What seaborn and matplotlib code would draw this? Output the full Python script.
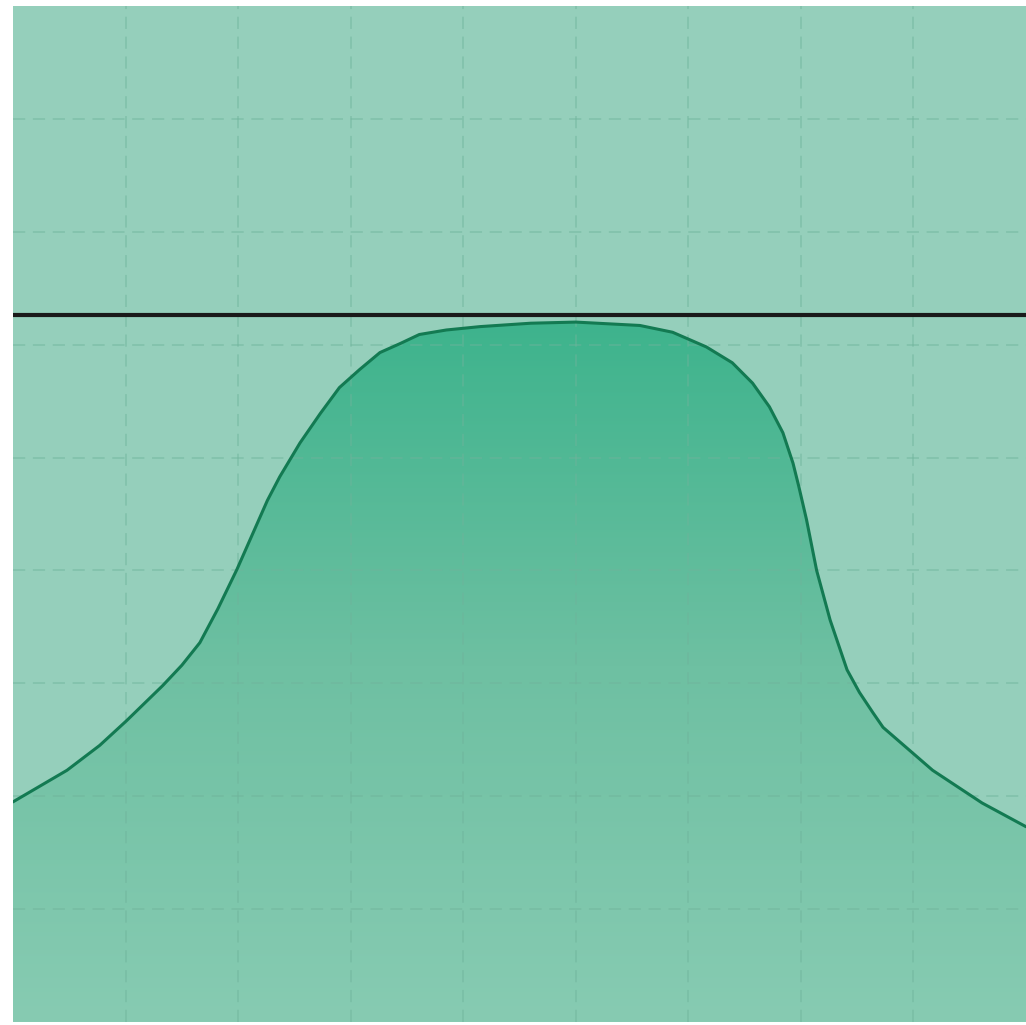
# Plateau curve with gradient fill under a reference line

import numpy as np
import pandas as pd
import seaborn as sns
import matplotlib.pyplot as plt
from matplotlib.colors import LinearSegmentedColormap

# values
curve_x = [0.0, 0.48, 0.77, 1.01, 1.33, 1.50, 1.66, 1.82, 1.99, 2.26, 2.37, 2.55,
           2.73, 2.90, 3.08, 3.26, 3.44, 3.61, 3.85, 4.15, 4.60, 5.00, 5.57,
           5.86, 6.16, 6.39, 6.57, 6.72, 6.84, 6.93, 6.98, 7.05, 7.14, 7.26,
           7.41, 7.52, 7.64, 7.73, 8.17, 8.61, 9.0]
curve_y = [1.95, 2.23, 2.45, 2.67, 2.98, 3.16, 3.36, 3.66, 4.01, 4.62, 4.83, 5.13,
           5.39, 5.62, 5.78, 5.93, 6.01, 6.09, 6.13, 6.16, 6.19, 6.20, 6.17,
           6.11, 5.98, 5.84, 5.66, 5.45, 5.22, 4.95, 4.75, 4.45, 4.00, 3.56,
           3.12, 2.92, 2.74, 2.61, 2.23, 1.94, 1.73]
ref_level = 6.26
grid_ticks = [1, 2, 3, 4, 5, 6, 7, 8]

df = pd.DataFrame({'x': curve_x, 'y': curve_y})

sns.set_theme(style='white')
fig = plt.figure(figsize=(10.26, 10.25), dpi=100)
ax = fig.add_axes([13 / 1026, 3 / 1025, 1013 / 1026, 1016 / 1025])
ax.set_facecolor('#95cfbb')

# gradient fill under the curve
fill = ax.fill_between(df['x'], df['y'], 0, color='none', linewidth=0)
cmap = LinearSegmentedColormap.from_list('g', ['#87cbb2', '#6ec0a2', '#3cb38c'])
grad = np.linspace(0, 1, 256).reshape(-1, 1)
img = ax.imshow(grad, cmap=cmap, origin='lower', aspect='auto',
                extent=[0, 9, 0, 6.3], zorder=1)
img.set_clip_path(fill.get_paths()[0], transform=ax.transData)

sns.lineplot(data=df, x='x', y='y', color='#137a52', linewidth=2.2, ax=ax, zorder=3)
ax.axhline(ref_level, color='#1a1a1a', linewidth=3.0, zorder=4)

ax.set_xlim(0, 9)
ax.set_ylim(0, 9)
ax.set_xticks(grid_ticks)
ax.set_yticks(grid_ticks)
ax.grid(True, color='#6fb39b', alpha=0.55, linestyle=(0, (8, 5)), linewidth=1.1)
ax.set_axisbelow(False)
for gl in ax.get_xgridlines() + ax.get_ygridlines():
    gl.set_zorder(2)
ax.tick_params(length=0, labelbottom=False, labelleft=False)
ax.set_xlabel('')
ax.set_ylabel('')
sns.despine(ax=ax, left=True, bottom=True)

fig.savefig('out.png', dpi=100, facecolor='white')
